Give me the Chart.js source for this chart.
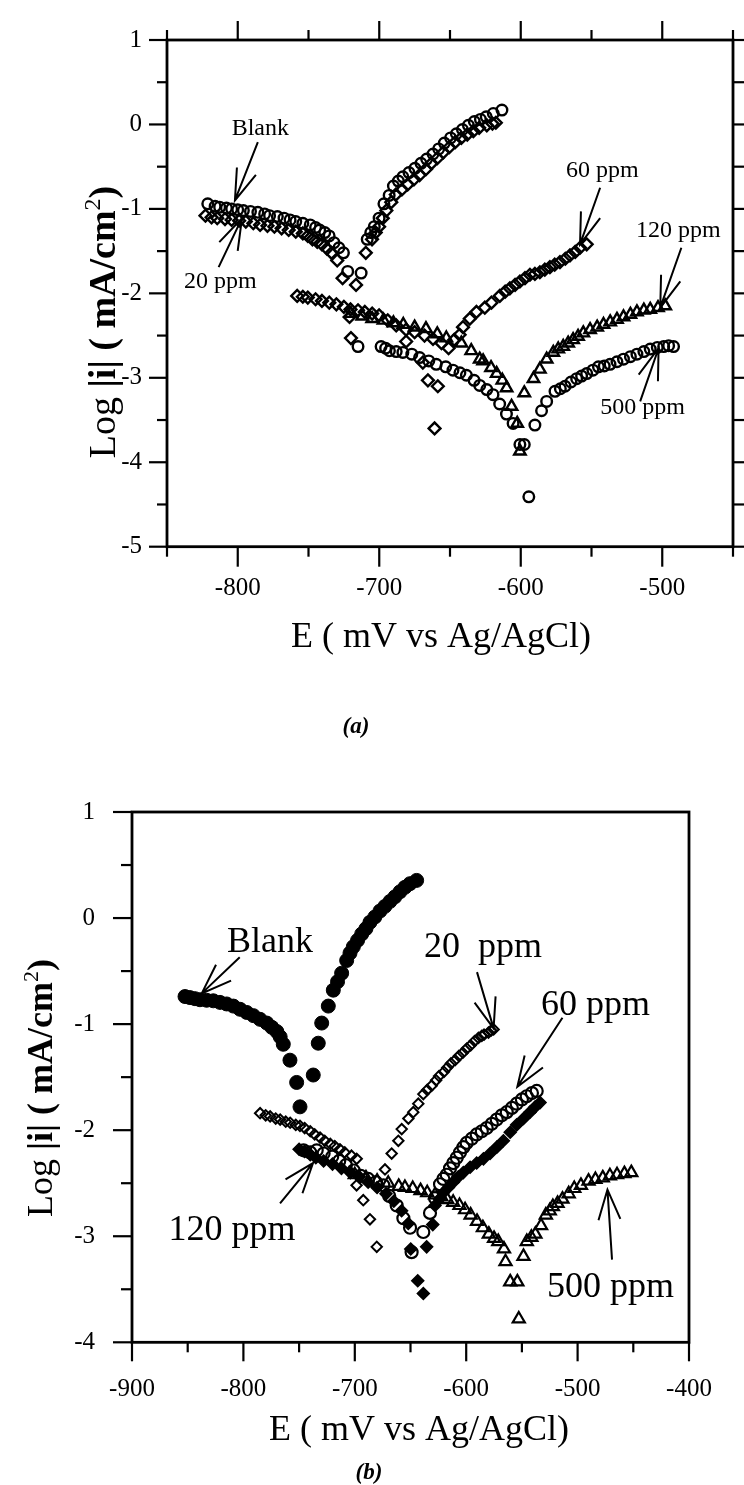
<!DOCTYPE html>
<html>
<head>
<meta charset="utf-8">
<title>Polarization curves</title>
<script src="https://cdn.jsdelivr.net/npm/chart.js@4.4.1/dist/chart.umd.min.js"></script>
<style>
  body { margin: 0; background: #fff; }
  #page { position: relative; width: 744px; height: 1485px; overflow: hidden; }
  canvas { position: absolute; left: 0; }
  #chartA { top: 0; }
  #chartB { top: 760px; }
</style>
</head>
<body>
<div id="page">
  <canvas id="chartA" width="744" height="760"></canvas>
  <canvas id="chartB" width="744" height="725"></canvas>
</div>
<script>
// ---- data, panel (a): [E (mV), log|i|]
const aBlank = [[-821.2,-0.94],[-816,-0.97],[-812.8,-0.98],[-808,-0.99],[-804.3,-1.00],[-800,-1.01],[-796,-1.02],[-791,-1.03],[-785.8,-1.04],[-781,-1.06],[-777.5,-1.08],[-772,-1.09],[-767.3,-1.11],[-763,-1.13],[-759,-1.15],[-754,-1.17],[-748.8,-1.19],[-745,-1.22],[-742.1,-1.25],[-738.5,-1.28],[-735.4,-1.32],[-732,-1.40],[-728.5,-1.46],[-725.3,-1.52],[-722.3,-1.74],[-712.8,-1.76],
  [-708.5,-1.36],[-706,-1.28],[-703.5,-1.21],[-700.1,-1.11],[-696.7,-0.94],[-693,-0.84],[-690,-0.73],[-686.5,-0.67],[-683.3,-0.62],[-679,-0.57],[-674.8,-0.52],[-670.5,-0.46],[-666.5,-0.41],[-662,-0.35],[-658,-0.29],[-654,-0.22],[-649.6,-0.16],[-645.5,-0.11],[-641.2,-0.06],[-637,-0.01],[-632.8,0.035],[-628.5,0.06],[-624.4,0.09],[-619.4,0.13],[-613.3,0.17]];
const a20 = [[-822.8,-1.08],[-818.5,-1.10],[-814.5,-1.11],[-809,-1.12],[-804.3,-1.13],[-799,-1.14],[-794.3,-1.15],[-789,-1.17],[-784.2,-1.19],[-779,-1.20],[-774.1,-1.21],[-769,-1.23],[-764,-1.25],[-759,-1.27],[-754,-1.29],[-750.5,-1.32],[-747.2,-1.36],[-743.8,-1.39],[-740.5,-1.42],[-737,-1.47],[-733.7,-1.52],[-729.7,-1.61],[-725.9,-1.82],[-716.4,-1.90],
  [-709.5,-1.52],[-705.1,-1.36],[-702.5,-1.28],[-700.1,-1.21],[-697.5,-1.11],[-695,-1.02],[-691.5,-0.92],[-688.3,-0.83],[-684,-0.77],[-679.9,-0.71],[-675.5,-0.65],[-671.5,-0.60],[-667,-0.53],[-663.1,-0.46],[-659,-0.40],[-654.7,-0.33],[-650.5,-0.27],[-646.3,-0.21],[-642,-0.16],[-637.8,-0.12],[-633.5,-0.08],[-629.4,-0.04],[-624,-0.01],[-620,0.01],[-617.6,0.02]];
const a60 = [[-758,-2.03],[-754,-2.04],[-750.5,-2.05],[-745,-2.07],[-740.5,-2.09],[-735.3,-2.11],[-730.3,-2.13],[-725,-2.16],[-720.3,-2.19],[-715,-2.20],[-710.2,-2.22],[-705,-2.24],[-700.1,-2.26],[-694,-2.32],[-688,-2.38],[-681,-2.43],[-675,-2.46],[-668,-2.50],[-662,-2.54],[-656,-2.59],[-651,-2.65],
  [-721,-2.28],[-720,-2.53],[-681,-2.57],[-669.2,-2.82],[-665.6,-3.03],[-658.6,-3.10],[-660.9,-3.60],
  [-647,-2.55],[-643.2,-2.49],[-640.8,-2.40],[-636,-2.30],[-631.3,-2.22],[-625.4,-2.17],[-620.7,-2.11],[-614.8,-2.03],[-611,-1.98],[-607.7,-1.94],[-604,-1.90],[-600.6,-1.86],[-597,-1.82],[-593.5,-1.78],[-590,-1.77],[-586.5,-1.75],[-583,-1.72],[-579.4,-1.69],[-576,-1.66],[-572.3,-1.63],[-568.5,-1.59],[-565.2,-1.55],[-561.5,-1.51],[-558.1,-1.46],[-553.4,-1.42]];
const a120 = [[-720,-2.24],[-712,-2.27],[-705,-2.30],[-697,-2.32],[-690,-2.35],[-683,-2.37],[-675,-2.40],[-667,-2.42],[-659,-2.48],[-652.6,-2.53],[-642,-2.59],[-635,-2.68],[-629,-2.78],[-626.6,-2.80],[-621,-2.88],[-617,-2.95],[-613,-3.03],[-610,-3.12],[-606.5,-3.34],[-602.5,-3.54],[-600.6,-3.87],
  [-597.5,-3.18],[-591,-3.01],[-586.5,-2.90],[-581.7,-2.78],[-577,-2.70],[-573.5,-2.66],[-570,-2.63],[-566.5,-2.59],[-563,-2.55],[-559.5,-2.51],[-555.8,-2.47],[-551,-2.43],[-546,-2.40],[-541.5,-2.37],[-536.8,-2.34],[-532,-2.31],[-527.4,-2.28],[-522.5,-2.25],[-517.9,-2.22],[-513,-2.20],[-508.5,-2.19],[-503,-2.17],[-497.9,-2.15]];
const a500 = [[-715,-2.63],[-698.7,-2.63],[-695.5,-2.65],[-692.8,-2.68],[-688,-2.69],[-683.3,-2.70],[-677,-2.72],[-671.5,-2.76],[-665,-2.80],[-659.7,-2.84],[-653,-2.87],[-647.9,-2.91],[-643,-2.94],[-638.4,-2.97],[-633,-3.03],[-629,-3.09],[-624,-3.14],[-619.6,-3.20],[-614.9,-3.31],[-610.1,-3.43],[-605.4,-3.54],[-600.6,-3.79],[-597.5,-3.79],[-594.3,-4.41],
  [-590,-3.56],[-585.3,-3.39],[-581.7,-3.28],[-575.8,-3.16],[-572,-3.13],[-568.7,-3.10],[-564.5,-3.05],[-560.5,-3.01],[-557,-2.98],[-553.4,-2.95],[-549,-2.91],[-545.1,-2.87],[-541,-2.86],[-536.9,-2.84],[-532,-2.81],[-527.4,-2.78],[-522.5,-2.75],[-517.9,-2.72],[-513,-2.69],[-508.5,-2.66],[-503.5,-2.64],[-499,-2.63],[-495.5,-2.62],[-492,-2.63]];

// ---- data, panel (b)
const bBlank = [[-852.4,-0.74],[-848,-0.75],[-843.5,-0.76],[-839,-0.77],[-833,-0.775],[-827,-0.78],[-821,-0.795],[-815,-0.81],[-809,-0.83],[-803,-0.86],[-797,-0.89],[-791,-0.92],[-785,-0.955],[-779,-0.99],[-774.5,-1.03],[-770,-1.07],[-767,-1.12],[-764.2,-1.19],[-758.2,-1.34],[-752.2,-1.55],[-749.2,-1.78],
  [-737.3,-1.48],[-732.8,-1.18],[-729.7,-0.99],[-723.8,-0.83],[-719.3,-0.68],[-715.5,-0.60],[-711.8,-0.52],[-707.3,-0.40],[-704.3,-0.33],[-701.3,-0.27],[-697.5,-0.21],[-693.8,-0.15],[-690,-0.10],[-686.4,-0.04],[-682,0.01],[-677.4,0.066],[-673,0.11],[-668.4,0.157],[-664,0.20],[-659.4,0.248],[-655,0.29],[-650.5,0.324],[-644.5,0.355]];
const b20 = [[-785,-1.84],[-780,-1.86],[-776,-1.87],[-771,-1.89],[-767,-1.90],[-762,-1.92],[-758,-1.93],[-753,-1.95],[-749.2,-1.96],[-745,-1.98],[-740,-2.01],[-736,-2.04],[-731.2,-2.07],[-727,-2.10],[-722,-2.13],[-718,-2.15],[-713.3,-2.18],[-709,-2.21],[-703,-2.24],[-698.3,-2.27],[-698.4,-2.52],[-692.4,-2.66],[-686.4,-2.84],[-680.3,-3.10],
  [-672.9,-2.37],[-666.9,-2.22],[-660.9,-2.10],[-657.9,-1.99],[-651.9,-1.89],[-647.5,-1.83],[-643,-1.75],[-638.5,-1.66],[-635,-1.62],[-631,-1.58],[-627,-1.53],[-624.4,-1.49],[-620,-1.45],[-617,-1.41],[-613.7,-1.37],[-610,-1.34],[-606.5,-1.30],[-603,-1.27],[-599.5,-1.23],[-596,-1.20],[-592.5,-1.16],[-589,-1.13],[-586,-1.11],[-584,-1.10],[-580,-1.08],[-577.5,-1.06],[-575.4,-1.05]];
const b60 = [[-746,-2.19],[-740,-2.21],[-734.2,-2.19],[-728,-2.22],[-720.3,-2.25],[-714,-2.29],[-708,-2.33],[-701,-2.38],[-694.7,-2.43],[-688,-2.46],[-681,-2.49],[-674.4,-2.52],[-669.1,-2.62],[-662.4,-2.71],[-656.4,-2.83],[-650.4,-2.92],[-649,-3.15],
  [-638.5,-2.96],[-632.5,-2.78],[-628,-2.64],[-623.5,-2.51],[-620.5,-2.46],[-617.5,-2.42],[-614.5,-2.36],[-611.6,-2.31],[-608.5,-2.26],[-605.6,-2.21],[-602.5,-2.16],[-599.6,-2.12],[-595,-2.08],[-590.6,-2.04],[-586,-2.01],[-581.6,-1.98],[-577,-1.94],[-572.6,-1.90],[-568,-1.86],[-563.6,-1.83],[-559,-1.79],[-554.7,-1.75],[-550,-1.71],[-545.7,-1.68],[-541,-1.65],[-536.7,-1.63]];
const b120 = [[-750,-2.18],[-745,-2.20],[-740,-2.23],[-735,-2.26],[-728,-2.29],[-720,-2.32],[-712,-2.36],[-704,-2.40],[-696,-2.44],[-688,-2.49],[-680,-2.54],[-672,-2.60],[-665,-2.67],[-658,-2.76],[-652,-2.88],[-649.8,-3.12],[-643.5,-3.42],[-638.5,-3.54],
  [-635.5,-3.10],[-630,-2.89],[-628,-2.71],[-624,-2.65],[-620.6,-2.59],[-616,-2.54],[-611.6,-2.49],[-607,-2.44],[-602.6,-2.40],[-596.5,-2.35],[-590.6,-2.31],[-584.5,-2.27],[-578.6,-2.22],[-572.5,-2.16],[-566.6,-2.10],[-560.5,-2.02],[-554.7,-1.95],[-548.5,-1.89],[-542.7,-1.83],[-538,-1.78],[-533.7,-1.74]];
const b500 = [[-700,-2.42],[-690,-2.45],[-680,-2.48],[-670,-2.50],[-660.6,-2.53],[-655,-2.54],[-648,-2.55],[-641,-2.57],[-635,-2.59],[-628,-2.61],[-622.3,-2.63],[-617,-2.655],[-611.7,-2.68],[-606,-2.71],[-601,-2.75],[-596,-2.80],[-590.3,-2.86],[-585,-2.92],[-579.7,-2.98],[-575,-3.02],[-571.2,-3.05],[-566.1,-3.12],[-564.7,-3.24],[-560.5,-3.43],[-554.1,-3.43],[-552.8,-3.78],
  [-548.6,-3.19],[-545.6,-3.05],[-541.5,-3.01],[-537.9,-2.98],[-532.8,-2.90],[-528.5,-2.80],[-525,-2.76],[-522.2,-2.72],[-518,-2.69],[-513.6,-2.65],[-508,-2.60],[-503,-2.55],[-497,-2.52],[-490.2,-2.48],[-484,-2.465],[-477.4,-2.45],[-471,-2.43],[-464.6,-2.42],[-458,-2.41],[-451.8,-2.40]];

// ---- tick labels
const aXTicks = [-800, -700, -600, -500];
const aYTicks = [-5, -4, -3, -2, -1, 0, 1];
const bXTicks = [-900, -800, -700, -600, -500, -400];
const bYTicks = [-4, -3, -2, -1, 0, 1];

// ---- callouts: label, text anchor [E, log|i|], arrow tail, arrow tip
const aNotes = [
  ['Blank',   [-804.3, -0.12], [-785.8, -0.21], [-802.0, -0.90]],
  ['20 ppm',  [-838.0, -1.94], [-813.5, -1.69], [-797.0, -1.11]],
  ['60 ppm',  [-568.0, -0.62], [-543.9, -0.75], [-558.1, -1.42]],
  ['120 ppm', [-518.6, -1.33], [-486.5, -1.46], [-501.4, -2.17]],
  ['500 ppm', [-543.9, -3.43], [-515.6, -3.28], [-502.6, -2.65]]
];
const bNotes = [
  ['Blank',    [-814.7, -0.32], [-803.3, -0.37], [-837.4, -0.71]],
  ['20  ppm',  [-637.9, -0.37], [-590.3, -0.51], [-575.4, -1.04]],
  ['60 ppm',   [-532.8, -0.91], [-513.6, -0.94], [-554.1, -1.59]],
  ['120 ppm',  [-867.2, -3.04], [-767.1, -2.69], [-737.5, -2.31]],
  ['500 ppm',  [-527.5, -3.57], [-469.1, -3.22], [-473.2, -2.56]]
];

const SERIF = '"Liberation Serif", "Times New Roman", serif';
Chart.defaults.font.family = SERIF;
Chart.defaults.color = '#000';

const toXY = pts => pts.map(([x, y]) => ({ x, y }));

function series(label, pts, style, radius, filled, width) {
  return {
    label,
    data: toXY(pts),
    showLine: false,
    pointStyle: style,
    pointRadius: radius,
    pointHoverRadius: radius,
    pointBorderWidth: width,
    borderColor: '#000',
    backgroundColor: filled ? '#000' : 'rgba(0,0,0,0)',
    pointBackgroundColor: filled ? '#000' : 'rgba(0,0,0,0)'
  };
}

function arrow(ctx, x0, y0, x1, y1, len, ang) {
  const a = Math.atan2(y0 - y1, x0 - x1);
  ctx.beginPath();
  ctx.moveTo(x0, y0);
  ctx.lineTo(x1, y1);
  ctx.moveTo(x1 + len * Math.cos(a + ang), y1 + len * Math.sin(a + ang));
  ctx.lineTo(x1, y1);
  ctx.lineTo(x1 + len * Math.cos(a - ang), y1 + len * Math.sin(a - ang));
  ctx.stroke();
}

// frame, tick marks, titles and callouts
const paper = {
  id: 'paper',
  afterDatasetsDraw(chart, args, o) {
    const { ctx, chartArea: area, scales: { x, y } } = chart;
    ctx.save();
    ctx.strokeStyle = '#000';
    ctx.fillStyle = '#000';
    ctx.lineWidth = o.frameWidth;
    ctx.strokeRect(area.left, area.top, area.right - area.left, area.bottom - area.top);

    ctx.lineWidth = 2.2;
    o.marks.forEach(m => {
      const horiz = m.side === 'top' || m.side === 'bottom';
      const scale = horiz ? x : y;
      for (let v = scale.min; v <= scale.max + 1e-9; v += m.step) {
        const major = Math.abs(Math.round(v / m.major) * m.major - v) < 1e-6;
        const len = major ? m.majorLen : m.minorLen;
        const p = scale.getPixelForValue(v);
        ctx.beginPath();
        if (m.side === 'bottom') { ctx.moveTo(p, area.bottom); ctx.lineTo(p, area.bottom + len); }
        if (m.side === 'top') { ctx.moveTo(p, area.top); ctx.lineTo(p, area.top - len); }
        if (m.side === 'left') { ctx.moveTo(area.left, p); ctx.lineTo(area.left - len, p); }
        if (m.side === 'right') { ctx.moveTo(area.right, p); ctx.lineTo(area.right + len, p); }
        ctx.stroke();
      }
    });

    // x title
    ctx.font = o.xTitle.size + 'px ' + SERIF;
    ctx.textAlign = 'center';
    ctx.textBaseline = 'alphabetic';
    ctx.fillText('E ( mV vs Ag/AgCl)', o.xTitle.x, o.xTitle.y);

    // y title, rotated, mixed weights
    const s = o.yTitle.size;
    const parts = [
      { t: 'Log ', f: s + 'px ' + SERIF, dy: 0 },
      { t: '|i| ( mA/cm', f: 'bold ' + s + 'px ' + SERIF, dy: 0 },
      { t: '2', f: Math.round(s * 0.62) + 'px ' + SERIF, dy: -s * 0.4 },
      { t: ')', f: 'bold ' + s + 'px ' + SERIF, dy: 0 }
    ];
    let total = 0;
    parts.forEach(p => { ctx.font = p.f; p.w = ctx.measureText(p.t).width; total += p.w; });
    ctx.translate(o.yTitle.x, o.yTitle.y);
    ctx.rotate(-Math.PI / 2);
    ctx.textAlign = 'left';
    let cx = -total / 2;
    parts.forEach(p => { ctx.font = p.f; ctx.fillText(p.t, cx, p.dy); cx += p.w; });
    ctx.setTransform(1, 0, 0, 1, 0, 0);

    // panel tag
    ctx.font = 'italic bold 23px ' + SERIF;
    ctx.textAlign = 'center';
    ctx.fillText(o.tag.text, o.tag.x, o.tag.y);

    // callouts
    ctx.font = o.noteSize + 'px ' + SERIF;
    ctx.textAlign = 'left';
    ctx.lineWidth = 2;
    o.notes.forEach(([label, at, tail, tip]) => {
      ctx.fillText(label, x.getPixelForValue(at[0]), y.getPixelForValue(at[1]));
      arrow(ctx, x.getPixelForValue(tail[0]), y.getPixelForValue(tail[1]),
        x.getPixelForValue(tip[0]), y.getPixelForValue(tip[1]), o.head, o.headAngle);
    });
    ctx.restore();
  }
};

function makeChart(id, cfg) {
  return new Chart(document.getElementById(id), {
    type: 'scatter',
    data: { datasets: cfg.datasets },
    options: {
      responsive: false,
      animation: false,
      events: [],
      layout: { padding: cfg.padding },
      plugins: { legend: { display: false }, tooltip: { enabled: false }, paper: cfg.paper },
      scales: {
        x: {
          type: 'linear', min: cfg.xMin, max: cfg.xMax,
          grid: { display: false, drawTicks: false },
          border: { display: false },
          ticks: { font: { size: 25 }, padding: cfg.xPad, maxRotation: 0 },
          afterBuildTicks: sc => { sc.ticks = cfg.xTicks.map(v => ({ value: v })); },
          afterFit: sc => { sc.height = cfg.xHeight; }
        },
        y: {
          type: 'linear', min: cfg.yMin, max: cfg.yMax,
          grid: { display: false, drawTicks: false },
          border: { display: false },
          ticks: { font: { size: 25 }, padding: cfg.yPad },
          afterBuildTicks: sc => { sc.ticks = cfg.yTicks.map(v => ({ value: v })); },
          afterFit: sc => { sc.width = cfg.yWidth; }
        }
      }
    },
    plugins: [paper]
  });
}

makeChart('chartA', {
  datasets: [
    series('Blank', aBlank, 'circle', 5.3, false, 2.4),
    series('20 ppm', a20, 'rectRot', 5.9, false, 2.4),
    series('60 ppm', a60, 'rectRot', 5.9, false, 2.4),
    series('120 ppm', a120, 'triangle', 6.6, false, 2.4),
    series('500 ppm', a500, 'circle', 5.3, false, 2.4)
  ],
  padding: { top: 24.3, right: 11, left: 0, bottom: 0 },
  xMin: -850, xMax: -450, yMin: -5, yMax: 1,
  xTicks: aXTicks, yTicks: aYTicks,
  xHeight: 760 - 546.7, yWidth: 167, xPad: 27, yPad: 25,
  paper: {
    frameWidth: 2.8,
    marks: [
      { side: 'bottom', step: 50, major: 100, majorLen: 20, minorLen: 10 },
      { side: 'top', step: 50, major: 100, majorLen: 19, minorLen: 10 },
      { side: 'left', step: 0.5, major: 1, majorLen: 18, minorLen: 10 },
      { side: 'right', step: 0.5, major: 1, majorLen: 12, minorLen: 12 }
    ],
    xTitle: { x: 441, y: 646.7, size: 36 },
    yTitle: { x: 115, y: 322, size: 38 },
    tag: { text: '(a)', x: 356, y: 733 },
    notes: aNotes, noteSize: 24, head: 33, headAngle: 18 * Math.PI / 180
  }
});

makeChart('chartB', {
  datasets: [
    series('Blank', bBlank, 'circle', 7, true, 1),
    series('20 ppm', b20, 'rectRot', 5.2, false, 2),
    series('60 ppm', b60, 'circle', 6, false, 2.2),
    series('120 ppm', b120, 'rectRot', 6, true, 1.5),
    series('500 ppm', b500, 'triangle', 7, false, 2.2)
  ],
  padding: { top: 32.3, right: 55, left: 0, bottom: 0 },
  xMin: -900, xMax: -400, yMin: -4, yMax: 1,
  xTicks: bXTicks, yTicks: bYTicks,
  xHeight: 725 - 582.3, yWidth: 132, xPad: 32, yPad: 37,
  paper: {
    frameWidth: 2.8,
    marks: [
      { side: 'bottom', step: 50, major: 100, majorLen: 19, minorLen: 10 },
      { side: 'left', step: 0.5, major: 1, majorLen: 19, minorLen: 11 }
    ],
    xTitle: { x: 419, y: 680, size: 36 },
    yTitle: { x: 52, y: 328, size: 36 },
    tag: { text: '(b)', x: 369, y: 719 },
    notes: bNotes, noteSize: 36, head: 32, headAngle: 20 * Math.PI / 180
  }
});
</script>
</body>
</html>
